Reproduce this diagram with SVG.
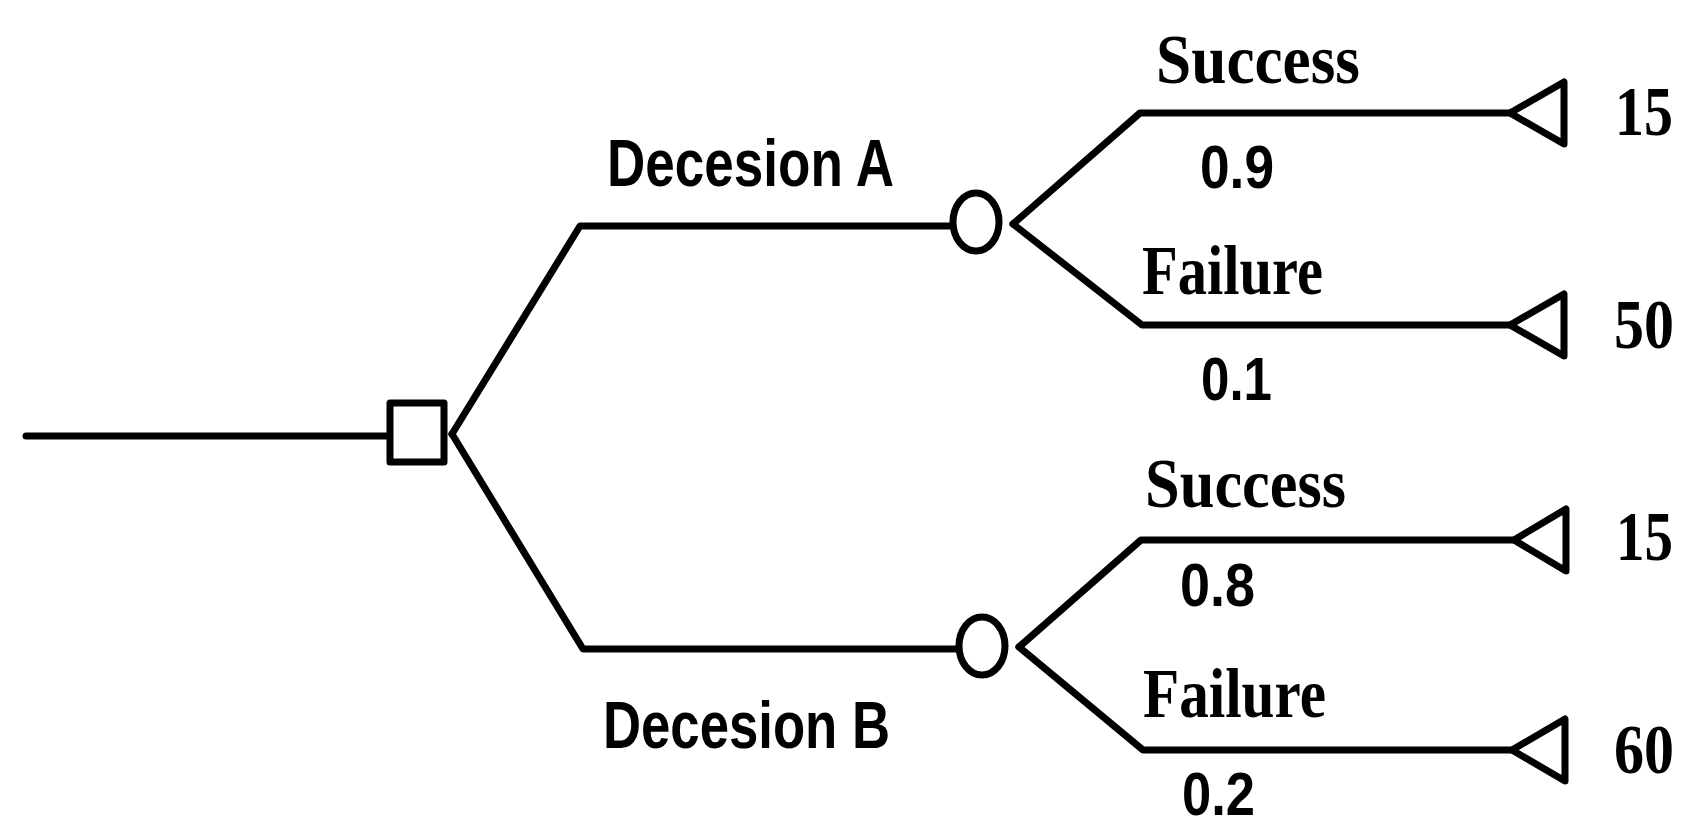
<svg xmlns="http://www.w3.org/2000/svg" width="1690" height="829" viewBox="0 0 1690 829">
  <style>
    .edge { fill: none; stroke: #000; stroke-width: 7; stroke-linejoin: round; stroke-linecap: round; }
    .shape { fill: #fff; stroke: #000; stroke-width: 7; stroke-linejoin: round; }
    .dec { font-family: "Liberation Sans", Arial, sans-serif; font-weight: bold; font-size: 66px; fill: #000; }
    .prob { font-family: "Liberation Sans", Arial, sans-serif; font-weight: bold; font-size: 62px; fill: #000; }
    .out { font-family: "Liberation Serif", "Times New Roman", serif; font-weight: bold; font-size: 70px; fill: #000; }
    .val { font-family: "Liberation Serif", "Times New Roman", serif; font-weight: bold; font-size: 70px; fill: #000; }
  </style>
  <rect width="1690" height="829" fill="#fff"/>

  <!-- branches of the tree -->
  <g id="connectors">
    <path class="edge" d="M26 436 H390"/>
    <path class="edge" d="M452 434 L580 226 H952"/>
    <path class="edge" d="M452 434 L583 649 H958"/>
    <path class="edge" d="M1013 224 L1140 113 H1510"/>
    <path class="edge" d="M1013 224 L1142 325 H1510"/>
    <path class="edge" d="M1019 647 L1141 540 H1514"/>
    <path class="edge" d="M1019 647 L1143 750 H1512"/>
  </g>

  <!-- decision node -->
  <g id="decision">
    <rect class="shape" x="390" y="403" width="54" height="59"/>
  </g>

  <!-- chance nodes -->
  <g id="chance-a">
    <ellipse class="shape" cx="976" cy="222" rx="23" ry="29"/>
  </g>
  <g id="chance-b">
    <ellipse class="shape" cx="982" cy="646" rx="23" ry="29"/>
  </g>

  <!-- terminal nodes -->
  <g id="end-a1"><polygon class="shape" points="1510,113 1564,82 1564,144"/></g>
  <g id="end-a2"><polygon class="shape" points="1510,325 1564,294 1564,356"/></g>
  <g id="end-b1"><polygon class="shape" points="1514,540 1566,509 1566,571"/></g>
  <g id="end-b2"><polygon class="shape" points="1512,750 1565,719 1565,781"/></g>

  <!-- labels -->
  <g id="labels">
    <text class="dec" x="607" y="186" textLength="287" lengthAdjust="spacingAndGlyphs">Decesion A</text>
    <text class="dec" x="603" y="748" textLength="287" lengthAdjust="spacingAndGlyphs">Decesion B</text>

    <text class="out" x="1156" y="83" textLength="204" lengthAdjust="spacingAndGlyphs">Success</text>
    <text class="out" x="1142" y="294" textLength="181" lengthAdjust="spacingAndGlyphs">Failure</text>
    <text class="out" x="1145" y="507" textLength="201" lengthAdjust="spacingAndGlyphs">Success</text>
    <text class="out" x="1143" y="717" textLength="183" lengthAdjust="spacingAndGlyphs">Failure</text>

    <text class="prob" x="1200" y="188" textLength="74" lengthAdjust="spacingAndGlyphs">0.9</text>
    <text class="prob" x="1201" y="400" textLength="71" lengthAdjust="spacingAndGlyphs">0.1</text>
    <text class="prob" x="1180" y="606" textLength="75" lengthAdjust="spacingAndGlyphs">0.8</text>
    <text class="prob" x="1182" y="815" textLength="73" lengthAdjust="spacingAndGlyphs">0.2</text>

    <text class="val" x="1615" y="135" textLength="58" lengthAdjust="spacingAndGlyphs">15</text>
    <text class="val" x="1614" y="348" textLength="60" lengthAdjust="spacingAndGlyphs">50</text>
    <text class="val" x="1616" y="560" textLength="57" lengthAdjust="spacingAndGlyphs">15</text>
    <text class="val" x="1614" y="773" textLength="60" lengthAdjust="spacingAndGlyphs">60</text>
  </g>
</svg>
